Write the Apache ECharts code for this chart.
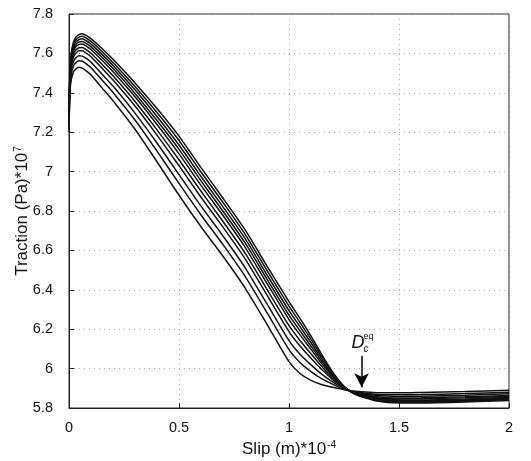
<!DOCTYPE html>
<html>
<head>
<meta charset="utf-8">
<script src="https://cdn.jsdelivr.net/npm/echarts@6/dist/echarts.min.js"></script>
<style>html,body{margin:0;padding:0;background:#fff}#c{width:531px;height:461px}</style>
</head>
<body>
<div id="c"></div>
<script>
// Slip positions (m * 1e-4)
const slip = [0, 0.004, 0.01, 0.02, 0.03, 0.045, 0.06, 0.08, 0.1, 0.15, 0.2, 0.3, 0.4, 0.5, 0.6, 0.7, 0.8, 0.9, 1.0, 1.05, 1.1, 1.15, 1.2, 1.25, 1.3, 1.4, 1.5, 1.6, 1.8, 2.0];
// Traction (Pa * 1e7), one array per curve, lowest peak first
const curve1  = [7.200, 7.400, 7.465, 7.505, 7.520, 7.530, 7.525, 7.510, 7.490, 7.425, 7.360, 7.215, 7.050, 6.880, 6.720, 6.570, 6.410, 6.225, 6.035, 5.975, 5.940, 5.918, 5.905, 5.893, 5.885, 5.878, 5.877, 5.879, 5.884, 5.890];
const curve2  = [7.220, 7.420, 7.492, 7.535, 7.552, 7.563, 7.560, 7.546, 7.527, 7.465, 7.402, 7.262, 7.104, 6.940, 6.780, 6.629, 6.469, 6.284, 6.096, 6.031, 5.985, 5.948, 5.920, 5.896, 5.882, 5.869, 5.867, 5.868, 5.873, 5.880];
const curve3  = [7.235, 7.435, 7.512, 7.558, 7.576, 7.588, 7.586, 7.573, 7.555, 7.495, 7.434, 7.297, 7.145, 6.985, 6.825, 6.673, 6.513, 6.328, 6.142, 6.073, 6.019, 5.971, 5.931, 5.899, 5.880, 5.863, 5.859, 5.860, 5.865, 5.872];
const curve4  = [7.250, 7.450, 7.533, 7.580, 7.600, 7.613, 7.613, 7.600, 7.583, 7.525, 7.465, 7.333, 7.185, 7.030, 6.870, 6.718, 6.558, 6.373, 6.188, 6.115, 6.053, 5.994, 5.943, 5.902, 5.878, 5.857, 5.851, 5.852, 5.857, 5.864];
const curve5  = [7.260, 7.460, 7.546, 7.595, 7.616, 7.629, 7.630, 7.618, 7.601, 7.545, 7.486, 7.356, 7.212, 7.060, 6.900, 6.747, 6.587, 6.402, 6.218, 6.143, 6.075, 6.009, 5.950, 5.903, 5.876, 5.852, 5.846, 5.847, 5.852, 5.859];
const curve6  = [7.270, 7.470, 7.560, 7.610, 7.632, 7.646, 7.648, 7.636, 7.620, 7.565, 7.507, 7.380, 7.239, 7.090, 6.930, 6.777, 6.617, 6.432, 6.249, 6.171, 6.098, 6.024, 5.958, 5.905, 5.875, 5.848, 5.841, 5.841, 5.846, 5.854];
const curve7  = [7.278, 7.478, 7.570, 7.621, 7.644, 7.658, 7.661, 7.650, 7.633, 7.580, 7.523, 7.397, 7.259, 7.113, 6.953, 6.799, 6.639, 6.454, 6.271, 6.192, 6.114, 6.036, 5.963, 5.906, 5.873, 5.845, 5.837, 5.837, 5.842, 5.850];
const curve8  = [7.285, 7.485, 7.580, 7.633, 7.656, 7.670, 7.674, 7.663, 7.647, 7.595, 7.539, 7.415, 7.280, 7.135, 6.975, 6.821, 6.661, 6.476, 6.294, 6.213, 6.131, 6.047, 5.969, 5.907, 5.872, 5.841, 5.833, 5.833, 5.838, 5.846];
const curve9  = [7.293, 7.493, 7.590, 7.644, 7.668, 7.683, 7.687, 7.677, 7.661, 7.610, 7.554, 7.432, 7.300, 7.158, 6.998, 6.843, 6.683, 6.498, 6.317, 6.234, 6.148, 6.059, 5.974, 5.909, 5.871, 5.838, 5.829, 5.829, 5.834, 5.842];
const curve10 = [7.300, 7.500, 7.600, 7.655, 7.680, 7.695, 7.700, 7.690, 7.675, 7.625, 7.570, 7.450, 7.320, 7.180, 7.020, 6.865, 6.705, 6.520, 6.340, 6.255, 6.165, 6.070, 5.980, 5.910, 5.870, 5.835, 5.825, 5.825, 5.830, 5.838];
const curves = [curve1, curve2, curve3, curve4, curve5, curve6, curve7, curve8, curve9, curve10];
// Tick values
const xTicks = [0, 0.5, 1, 1.5, 2];
const yTicks = [5.8, 6, 6.2, 6.4, 6.6, 6.8, 7, 7.2, 7.4, 7.6, 7.8];
// Annotation (arrow from, arrow to)
const arrowFrom = [1.33, 6.065];
const arrowTo = [1.33, 5.905];

const FONT = 'Liberation Sans';
const chart = echarts.init(document.getElementById('c'), null, {renderer: 'canvas'});
const series = curves.map((c, i) => ({
  type: 'line',
  data: slip.map((x, j) => [x, c[j]]),
  showSymbol: false,
  smooth: 0.2,
  lineStyle: {color: '#111', width: 1.5},
  z: 3,
  silent: true
}));
series.push({
  type: 'line',
  data: [],
  markLine: {
    silent: true,
    symbol: ['none', 'arrow'],
    symbolSize: [11, 14],
    label: {show: false},
    lineStyle: {color: '#000', width: 1.5, type: 'solid'},
    data: [[{coord: arrowFrom}, {coord: arrowTo}]]
  }
});
const richTitle = {
  a: {fontFamily: FONT, fontSize: 17, color: '#111'},
  s: {fontFamily: FONT, fontSize: 10, color: '#111', verticalAlign: 'top', padding: [0, 0, 9, 1]}
};
chart.setOption({
  animation: false,
  grid: {left: 69, right: 22, top: 14, bottom: 53, containLabel: false, outerBoundsMode: 'none', show: true, borderColor: '#222', borderWidth: 1, backgroundColor: 'transparent'},
  xAxis: {
    type: 'value', min: xTicks[0], max: xTicks[xTicks.length - 1], interval: 0.5,
    name: '{a|Slip (m)*10}{s|-4}', nameLocation: 'middle', nameGap: 32, nameMoveOverlap: false,
    nameTextStyle: {rich: richTitle},
    axisLine: {lineStyle: {color: '#222', width: 1}},
    axisTick: {inside: true, length: 5, lineStyle: {color: '#222'}},
    axisLabel: {fontFamily: FONT, fontSize: 14.5, color: '#111', margin: 12},
    splitLine: {show: true, lineStyle: {color: '#aaa', type: [1, 4], width: 1}}
  },
  yAxis: {
    type: 'value', min: yTicks[0], max: yTicks[yTicks.length - 1], interval: 0.2,
    name: '{a|Traction (Pa)*10}{s|7}', nameLocation: 'middle', nameGap: 37, nameRotate: 90, nameMoveOverlap: false,
    nameTextStyle: {rich: richTitle},
    axisLine: {lineStyle: {color: '#222', width: 1}},
    axisTick: {inside: true, length: 5, lineStyle: {color: '#222'}},
    axisLabel: {fontFamily: FONT, fontSize: 14.5, color: '#111', margin: 16, formatter: v => String(Math.round(v * 10) / 10)},
    splitLine: {show: true, lineStyle: {color: '#aaa', type: [1, 4], width: 1}}
  },
  series: series
});
// D_c^eq label placed above the arrow start
const p = chart.convertToPixel({gridIndex: 0}, [arrowFrom[0], arrowFrom[1]]);
chart.setOption({
  graphic: [
    {type: 'text', x: p[0] - 10, y: p[1] - 22, style: {text: 'D', fontFamily: FONT, fontStyle: 'italic', fontSize: 18, fill: '#111'}},
    {type: 'text', x: p[0] + 2, y: p[1] - 24, style: {text: 'eq', fontFamily: FONT, fontSize: 9, fill: '#111'}},
    {type: 'text', x: p[0] + 2, y: p[1] - 12, style: {text: 'c', fontFamily: FONT, fontStyle: 'italic', fontSize: 10, fill: '#111'}}
  ]
});
</script>
</body>
</html>
